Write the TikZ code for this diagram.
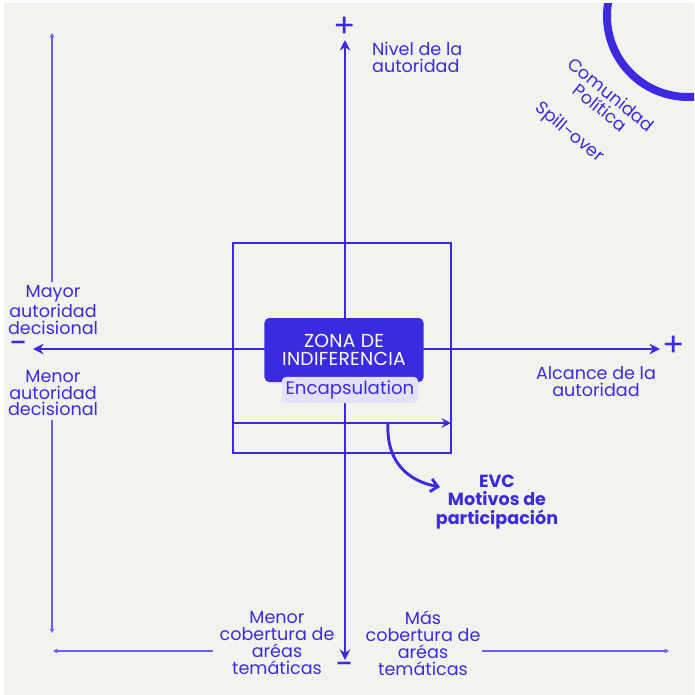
\documentclass[tikz,border=0pt]{standalone}
\usepackage{fontspec}
\setmainfont{Poppins}
\usetikzlibrary{arrows,arrows.meta,positioning,calc}
\definecolor{ink}{HTML}{3A2BE0}
\definecolor{faint}{HTML}{6A5EF2}
\definecolor{paper}{HTML}{F3F3EE}
\definecolor{lilac}{HTML}{E4E2FA}
\newcommand\axfont{\fontsize{15}{14.5}\selectfont}
\tikzset{
    %Define standard arrow tip
    >={Stealth[length=9pt,width=9pt]},
    % Define axis style
    axis/.style={
           <->,
           draw=ink,
           line width=2.5pt},
    frame/.style={
           rectangle,
           draw=ink,
           line width=2.5pt,
           minimum width=6.54cm,
           minimum height=6.3cm},
    zone/.style={
           rectangle,
           rounded corners=4pt,
           fill=ink,
           text=white,
           align=center,
           font=\fontsize{16}{15}\selectfont\addfontfeature{LetterSpace=1.5},
           minimum width=4.77cm,
           minimum height=1.92cm},
    encaps/.style={
           rectangle,
           rounded corners=4pt,
           fill=lilac,
           text=ink,
           font=\fontsize{15.5}{15}\selectfont,
           minimum width=4.02cm,
           minimum height=0.78cm},
    lbl/.style={
           text=ink,
           align=center,
           font=\axfont},
    sign/.style={
           text=ink,
           font=\fontsize{28}{28}\selectfont},
    guide/.style={
           ->,
           draw=faint,
           line width=1.1pt,
           >={Stealth[length=4pt,width=4pt]}},
    % Define curved arrow style
    curvy/.style={
           -{Straight Barb[length=6pt,width=11pt]},
           draw=ink,
           line width=2.5pt}
}
\begin{document}
\begin{tikzpicture}[x=0.03cm, y=-0.03cm]
 \fill[white] (0,0) rectangle (694,695);
 \fill[paper] (4,3) rectangle (694,695);
 \useasboundingbox (0,0) rectangle (694,695);

 % corner ring
 \begin{scope}
  \clip (4,3) rectangle (694,695);
  \draw[ink, line width=6.8pt] (688,16) circle[radius=81];
 \end{scope}
 \node[lbl, rotate=-39] (comunidad) at (606,101) {Comunidad\\Política};
 \node[lbl, rotate=-40] (spill) at (569,133) {Spill-over};

 % axes
 \coordinate (ntop) at (345,40);
 \coordinate (nbot) at (345,660);
 \coordinate (wleft) at (33,349);
 \coordinate (eright) at (660,349);
 \draw[axis] (nbot) -- (ntop);
 \draw[axis] (wleft) -- (eright);

 \node[sign] (plus-n) at (345,27) {+};
 \node[sign] (minus-s) at (345,669) {−};
 \node[sign] (minus-w) at (19,348) {−};
 \node[sign] (plus-e) at (674,346) {+};

 % square and zone
 \node[frame] (square) at (342,348) {};
 \coordinate (in-a) at (233,423);
 \coordinate (in-b) at (451,423);
 \draw[axis, -{Stealth[length=8pt,width=8pt]}] (in-a) -- (in-b);

 \node[zone] (zona) at (344,350) {ZONA DE\\INDIFERENCIA};
 \node[encaps] (encap) at (350,390) {Encapsulation};

 \node[lbl, font=\fontsize{15}{15.8}\selectfont\bfseries] (evc) at (497,502) {EVC\\Motivos de\\participación};
 \coordinate (bend) at (388,423);
 \coordinate (evc-tip) at (440,487);
 \draw[curvy] (bend) .. controls (386,462) and (408,481) .. (evc-tip);

 % axis labels
 \node[lbl, align=left, anchor=west] (nivel) at (368,57) {Nivel de la\\autoridad};
 \node[lbl] (mayor) at (53,310) {Mayor\\autoridad\\decisional};
 \node[lbl] (menor) at (53,393) {Menor\\autoridad\\decisional};
 \node[lbl] (alcance) at (596,382) {Alcance de la\\autoridad};
 \node[lbl] (menorcob) at (277,643) {Menor\\cobertura de\\aréas\\temáticas};
 \node[lbl] (mascob) at (423,643) {Más\\cobertura de\\aréas\\temáticas};

 % thin guides
 \coordinate (l-up) at (52,33);
 \coordinate (l-down) at (52,633);
 \coordinate (b-left) at (53,651);
 \coordinate (b-left-s) at (213,651);
 \coordinate (b-right) at (669,651);
 \coordinate (b-right-s) at (482,651);
 \draw[guide] (mayor.north -| l-up) -- (l-up);
 \draw[guide] (menor.south -| l-down) -- (l-down);
 \draw[guide] (b-left-s) -- (b-left);
 \draw[guide] (b-right-s) -- (b-right);
\end{tikzpicture}
\end{document}
